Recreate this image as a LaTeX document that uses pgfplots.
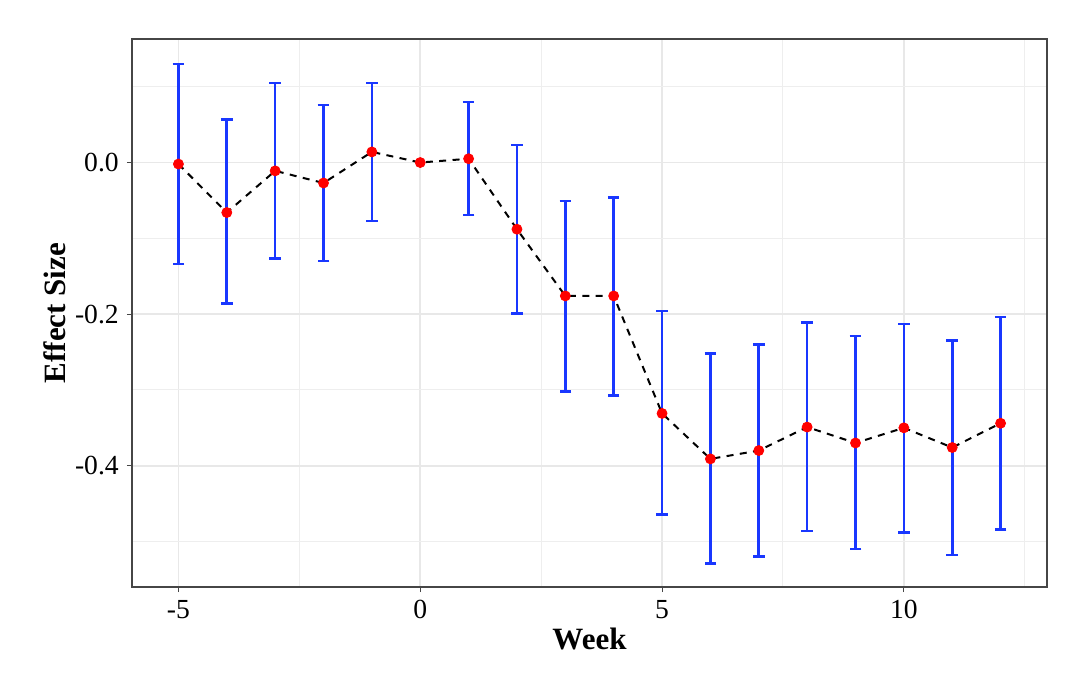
\documentclass[border=0pt]{standalone}
\usepackage{fontspec}
\setmainfont{Liberation Serif}
\usepackage{pgfplots}
\usepackage{pgfplotstable}
\pgfplotsset{compat=1.18}
\definecolor{errblue}{RGB}{25,55,255}
\definecolor{gridgray}{RGB}{232,232,232}
\definecolor{framegray}{RGB}{70,70,70}

% week, estimate, upper, lower
\pgfplotstableread{
x y up lo
-5 -0.002 0.130 -0.134
-4 -0.066 0.057 -0.186
-3 -0.011 0.105 -0.127
-2 -0.027 0.076 -0.130
-1 0.014 0.105 -0.077
0 0.000 0.000 0.000
1 0.005 0.080 -0.069
2 -0.088 0.023 -0.199
3 -0.176 -0.051 -0.302
4 -0.176 -0.046 -0.307
5 -0.331 -0.196 -0.464
6 -0.391 -0.252 -0.529
7 -0.380 -0.240 -0.520
8 -0.349 -0.211 -0.486
9 -0.370 -0.229 -0.510
10 -0.350 -0.213 -0.488
11 -0.376 -0.235 -0.518
12 -0.344 -0.204 -0.484
}\est

\pgfplotstableread{
x y ep em
-5 -0.002 0.132 0.132
-4 -0.066 0.123 0.120
-3 -0.011 0.116 0.116
-2 -0.027 0.103 0.103
-1 0.014 0.091 0.091
1 0.005 0.075 0.074
2 -0.088 0.111 0.111
3 -0.176 0.125 0.126
4 -0.176 0.130 0.131
5 -0.331 0.135 0.133
6 -0.391 0.139 0.138
7 -0.380 0.140 0.140
8 -0.349 0.138 0.137
9 -0.370 0.141 0.140
10 -0.350 0.137 0.138
11 -0.376 0.141 0.142
12 -0.344 0.140 0.140
}\errs

\begin{document}
\begin{tikzpicture}[x=1pt,y=1pt]
\useasboundingbox (0,0) rectangle (540,337);
\begin{axis}[
  at={(66pt,43.5pt)}, anchor=south west,
  width=457.5pt, height=274pt, scale only axis,
  xmin=-5.96, xmax=12.96, ymin=-0.560, ymax=0.163,
  xtick={-5,0,5,10}, xticklabels={-5,0,5,10},
  ytick={-0.4,-0.2,0}, yticklabels={-0.4,-0.2,0.0},
  minor xtick={-2.5,2.5,7.5,12.5},
  minor ytick={-0.5,-0.3,-0.1,0.1},
  grid=both,
  major grid style={draw=gridgray, line width=0.9pt},
  minor grid style={draw=gridgray!75, line width=0.5pt},
  tick align=outside,
  xtick pos=bottom, ytick pos=left,
  major tick length=2.6pt, minor tick length=0pt,
  tick style={framegray, line width=0.5pt},
  axis line style={framegray, line width=0.6pt},
  ticklabel style={font=\fontsize{13.8}{16}\selectfont, text=black},
  xticklabel style={yshift=-0.5pt},
  yticklabel style={xshift=-0.5pt},
  xlabel={\textbf{Week}},
  ylabel={\textbf{Effect Size}},
  label style={font=\fontsize{15.5}{18}\selectfont},
  xlabel style={yshift=2.5pt},
  ylabel style={yshift=-2pt},
  clip=false,
]
\addplot[black, line width=1pt, dash pattern=on 3.5pt off 3.2pt] table[x=x,y=y] {\est};
\addplot[errblue, only marks, mark=none,
  error bars/.cd, y dir=both, y explicit,
  error mark=|, error bar style={line width=1.3pt, errblue, solid},
  error mark options={errblue, line width=1.3pt, mark size=2.9pt}]
  table[x=x, y=y, y error plus=ep, y error minus=em] {\errs};
\addplot[only marks, mark=*, mark size=2.5pt, color=red, mark options={fill=red, draw=red}] table[x=x,y=y] {\est};
\end{axis}
\end{tikzpicture}
\end{document}
